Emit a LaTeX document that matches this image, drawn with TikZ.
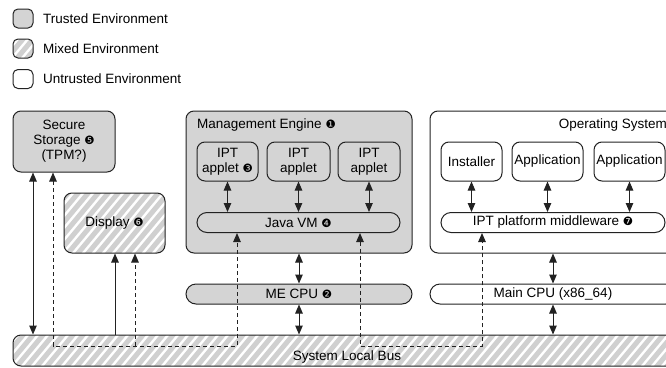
\documentclass[tikz,border=0pt]{standalone}
\usepackage{fontspec}
\setmainfont{Liberation Sans}
\newfontfamily\dvfont{DejaVu Sans}
\usetikzlibrary{arrows.meta}
\definecolor{trustgray}{HTML}{D4D4D4}
\definecolor{hatchgray}{HTML}{D0D0D0}
\definecolor{edge}{HTML}{222222}
\newcommand{\cnum}[1]{{\dvfont\fontsize{11.5}{11.5}\selectfont #1}}
\tikzset{
  box/.style={draw=edge, line width=1pt, rounded corners=8pt, inner sep=0pt, align=center},
  pill/.style={draw=edge, line width=1pt, rounded corners=10pt, inner sep=0pt, align=center},
  trusted/.style={fill=trustgray},
  untrusted/.style={fill=white},
  hatched/.style={fill=white, path picture={
     \foreach \k in {0,...,80}{
       \draw[hatchgray, line width=5pt]
         ([xshift={(\k*10-70)*1pt}, yshift=-5pt]path picture bounding box.south west) -- ++(60,-72);
     }}},
  arr/.style={-{Triangle[length=9pt,width=7.5pt]}, line width=1pt, draw=edge},
  darr/.style={{Triangle[length=9pt,width=7.5pt]}-{Triangle[length=9pt,width=7.5pt]}, line width=1pt, draw=edge},
  dsh/.style={dash pattern=on 4pt off 3pt, line width=1pt, draw=edge},
  lbl/.style={inner sep=0pt}
}
\begin{document}
\begin{tikzpicture}[x=1pt, y=-1pt, font=\fontsize{13.5}{15}\selectfont]
\useasboundingbox (0,0) rectangle (666,367);
\clip (0,0) rectangle (666,367);

% legend
\node[box, trusted, rounded corners=5pt, minimum width=20, minimum height=19] (lg1) at (23,18.5) {};
\node[box, hatched, rounded corners=5pt, minimum width=20, minimum height=19] (lg2) at (23,48.5) {};
\node[box, untrusted, rounded corners=5pt, minimum width=20, minimum height=19] (lg3) at (23,79) {};
\node[lbl, anchor=west] (lt1) at (43,18.5) {Trusted Environment};
\node[lbl, anchor=west] (lt2) at (43,48.5) {Mixed Environment};
\node[lbl, anchor=west] (lt3) at (43,79) {Untrusted Environment};

% system bus
\node[box, hatched, minimum width=690, minimum height=31] (bus) at (358,350.5) {};
\node[lbl] (bustxt) at (347,357) {System Local Bus};

% secure storage and display
\node[box, trusted, minimum width=102, minimum height=61] (ss) at (64,141.5) {Secure\\Storage \cnum{❺}\\(TPM?)};
\node[box, hatched, minimum width=101, minimum height=60] (disp) at (114.5,223) {Display \cnum{❻}};

% management engine
\node[box, trusted, minimum width=226, minimum height=142] (me) at (299,182) {};
\node[lbl, anchor=base west] (metxt) at (197,128) {Management Engine \cnum{❶}};
\node[box, trusted, minimum width=61, minimum height=39] (a1) at (227.5,161.5) {IPT\\applet \cnum{❸}};
\node[box, trusted, minimum width=63, minimum height=39] (a2) at (298.5,161.5) {IPT\\applet};
\node[box, trusted, minimum width=62, minimum height=39] (a3) at (369,161.5) {IPT\\applet};
\node[pill, trusted, minimum width=203, minimum height=20] (jvm) at (298.5,222.5) {Java VM \cnum{❹}};
\node[pill, trusted, minimum width=226, minimum height=20] (mecpu) at (299,294) {ME CPU \cnum{❷}};

% operating system
\node[box, untrusted, minimum width=246, minimum height=142] (os) at (553,182) {};
\node[lbl, anchor=base east] (ostxt) at (667,128) {Operating System};
\node[box, untrusted, minimum width=61, minimum height=39] (inst) at (471.5,161.5) {Installer};
\node[box, untrusted, minimum width=71, minimum height=39] (app1) at (547.5,161.5) {Application};
\node[box, untrusted, minimum width=71, minimum height=39] (app2) at (629.5,161.5) {Application};
\node[pill, untrusted, minimum width=224, minimum height=20] (mw) at (553,222.5) {IPT platform middleware \cnum{❼}};
\node[pill, untrusted, minimum width=246, minimum height=20] (cpu) at (553,294) {Main CPU (x86\_64)};

% column coordinates
\coordinate (c33) at (33,0);
\coordinate (c115) at (115,0);
\coordinate (dA) at (53,346);
\coordinate (dB) at (237,346);
\coordinate (dC) at (135,346);
\coordinate (dD) at (360,346);
\coordinate (dE) at (482,346);

% solid connectors
\draw[darr] (ss.south -| c33) -- (bus.north -| c33);
\draw[arr] (bus.north -| c115) -- (disp.south -| c115);
\draw[darr] (a1.south) -- (jvm.north -| a1.south);
\draw[darr] (a2.south) -- (jvm.north -| a2.south);
\draw[darr] (a3.south) -- (jvm.north -| a3.south);
\draw[darr] (me.south) -- (mecpu.north);
\draw[darr] (mecpu.south) -- (bus.north -| mecpu.south);
\draw[darr] (inst.south) -- (mw.north -| inst.south);
\draw[darr] (app1.south) -- (mw.north -| app1.south);
\draw[darr] (app2.south) -- (mw.north -| app2.south);
\draw[darr] (os.south) -- (cpu.north);
\draw[darr] (cpu.south) -- (bus.north -| cpu.south);

% dashed connectors
\draw[dsh, {Triangle[length=9pt,width=7.5pt]}-{Triangle[length=9pt,width=7.5pt]}] (ss.south -| dA) -- (dA) -- (dB) -- (jvm.south -| dB);
\draw[dsh, -{Triangle[length=9pt,width=7.5pt]}] (dC) -- (disp.south -| dC);
\draw[dsh, {Triangle[length=9pt,width=7.5pt]}-{Triangle[length=9pt,width=7.5pt]}] (jvm.south -| dD) -- (dD) -- (dE) -- (mw.south -| dE);
\end{tikzpicture}
\end{document}
